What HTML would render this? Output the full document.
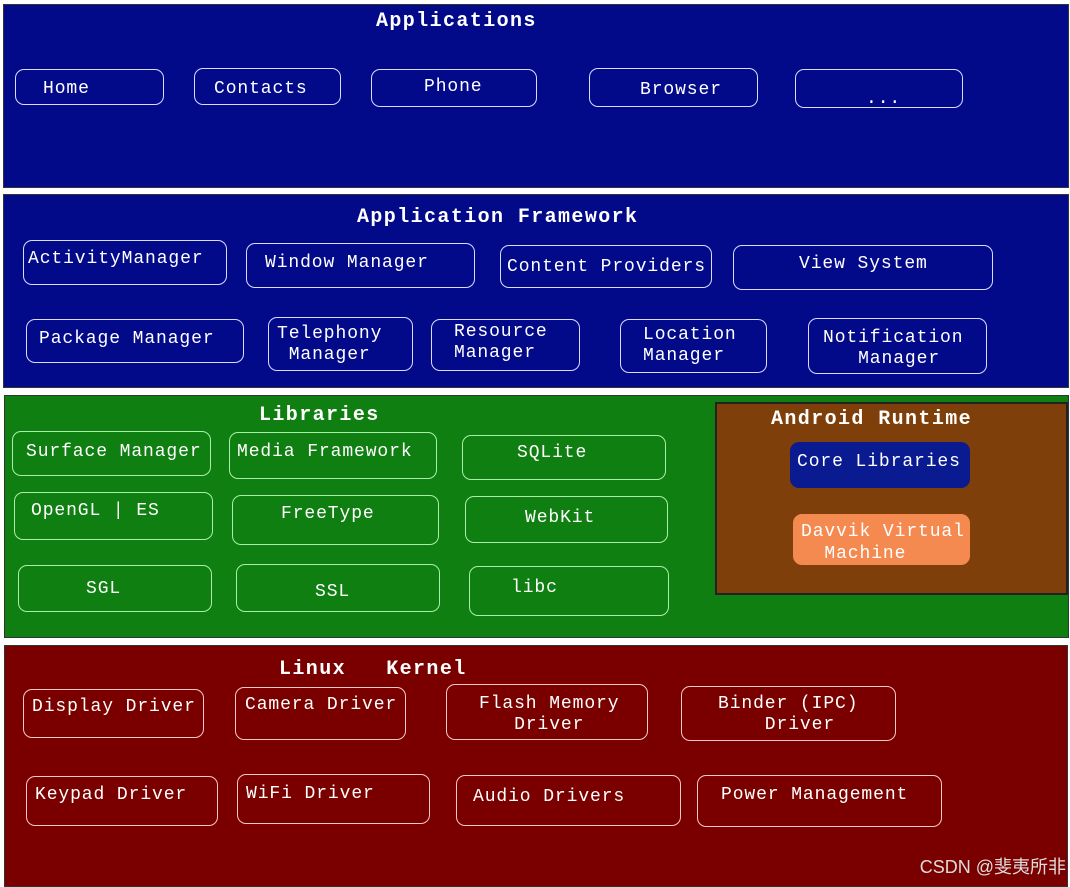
<!DOCTYPE html>
<html><head><meta charset="utf-8"><style>
body{margin:0;width:1070px;height:883px;background:#fff;position:relative;overflow:hidden;font-family:"Liberation Mono",monospace;}
.p{position:absolute;border:1px solid #333;}
.b{position:absolute;border:1.5px solid #d8dcff;border-radius:9px;box-sizing:border-box;color:#fff;font-size:18px;letter-spacing:0.9px;line-height:21px;white-space:pre;}
.g{border-color:#a8f0a8;}
.r{border-color:#f4c8c8;}
.t{position:absolute;color:#fff;font-weight:bold;font-size:20px;letter-spacing:1.4px;white-space:pre;font-family:"Liberation Mono",monospace;}
.x{position:absolute;}
</style></head><body>
<div class="p" style="left:3px;top:4px;width:1064px;height:182px;background:#020a8a"></div>
<div class="p" style="left:3px;top:194px;width:1064px;height:192px;background:#020a8a"></div>
<div class="p" style="left:4px;top:395px;width:1063px;height:241px;background:#107f12"></div>
<div class="p" style="left:715px;top:402px;width:349px;height:189px;background:#7f3f0a;border:2px solid #222"></div>
<div class="p" style="left:4px;top:645px;width:1062px;height:240px;background:#7a0000"></div>

<div class="t" style="left:376px;top:10px">Applications</div>
<div class="t" style="left:357px;top:206px">Application Framework</div>
<div class="t" style="left:259px;top:404px">Libraries</div>
<div class="t" style="left:771px;top:408px">Android Runtime</div>
<div class="t" style="left:279px;top:658px">Linux   Kernel</div>

<div class="b" style="left:15px;top:69px;width:149px;height:36px;padding:9px 0 0 27px">Home</div>
<div class="b" style="left:194px;top:68px;width:147px;height:37px;padding:10px 0 0 19px">Contacts</div>
<div class="b" style="left:371px;top:69px;width:166px;height:38px;padding:7px 0 0 52px">Phone</div>
<div class="b" style="left:589px;top:68px;width:169px;height:39px;padding:11px 0 0 50px">Browser</div>
<div class="b" style="left:795px;top:69px;width:168px;height:39px;padding:19px 0 0 70px">...</div>

<div class="b" style="left:23px;top:240px;width:204px;height:45px;padding:8px 0 0 4px">ActivityManager</div>
<div class="b" style="left:246px;top:243px;width:229px;height:45px;padding:9px 0 0 18px">Window Manager</div>
<div class="b" style="left:500px;top:245px;width:212px;height:43px;padding:11px 0 0 6px">Content Providers</div>
<div class="b" style="left:733px;top:245px;width:260px;height:45px;padding:8px 0 0 65px">View System</div>
<div class="b" style="left:26px;top:319px;width:218px;height:44px;padding:9px 0 0 12px">Package Manager</div>
<div class="b" style="left:268px;top:317px;width:145px;height:54px;padding:6px 0 0 8px">Telephony
 Manager</div>
<div class="b" style="left:431px;top:319px;width:149px;height:52px;padding:2px 0 0 22px">Resource
Manager</div>
<div class="b" style="left:620px;top:319px;width:147px;height:54px;padding:5px 0 0 22px">Location
Manager</div>
<div class="b" style="left:808px;top:318px;width:179px;height:56px;padding:9px 0 0 14px">Notification
   Manager</div>

<div class="b g" style="left:12px;top:431px;width:199px;height:45px;padding:10px 0 0 13px">Surface Manager</div>
<div class="b g" style="left:229px;top:432px;width:208px;height:47px;padding:9px 0 0 7px">Media Framework</div>
<div class="b g" style="left:462px;top:435px;width:204px;height:45px;padding:7px 0 0 54px">SQLite</div>
<div class="b g" style="left:14px;top:492px;width:199px;height:48px;padding:8px 0 0 16px">OpenGL | ES</div>
<div class="b g" style="left:232px;top:495px;width:207px;height:50px;padding:8px 0 0 48px">FreeType</div>
<div class="b g" style="left:465px;top:496px;width:203px;height:47px;padding:11px 0 0 59px">WebKit</div>
<div class="b g" style="left:18px;top:565px;width:194px;height:47px;padding:13px 0 0 67px">SGL</div>
<div class="b g" style="left:236px;top:564px;width:204px;height:48px;padding:17px 0 0 78px">SSL</div>
<div class="b g" style="left:469px;top:566px;width:200px;height:50px;padding:11px 0 0 41px">libc</div>

<div class="b" style="left:790px;top:442px;width:180px;height:46px;background:#0a1a90;border-color:#0a1a90;padding:9px 0 0 6px">Core Libraries</div>
<div class="b" style="left:793px;top:514px;width:177px;height:51px;background:#f58a50;border-color:#f58a50;padding:6px 0 0 7px;line-height:22px">Davvik Virtual
  Machine</div>

<div class="b r" style="left:23px;top:689px;width:181px;height:49px;padding:7px 0 0 8px">Display Driver</div>
<div class="b r" style="left:235px;top:687px;width:171px;height:53px;padding:7px 0 0 9px">Camera Driver</div>
<div class="b r" style="left:446px;top:684px;width:202px;height:56px;padding:9px 0 0 32px">Flash Memory
   Driver</div>
<div class="b r" style="left:681px;top:686px;width:215px;height:55px;padding:7px 0 0 36px">Binder (IPC)
    Driver</div>
<div class="b r" style="left:26px;top:776px;width:192px;height:50px;padding:8px 0 0 8px">Keypad Driver</div>
<div class="b r" style="left:237px;top:774px;width:193px;height:50px;padding:9px 0 0 8px">WiFi Driver</div>
<div class="b r" style="left:456px;top:775px;width:225px;height:51px;padding:11px 0 0 16px">Audio Drivers</div>
<div class="b r" style="left:697px;top:775px;width:245px;height:52px;padding:9px 0 0 23px">Power Management</div>

<div class="x" style="right:4px;top:853px;color:#ddd;font-family:'Liberation Sans','Noto Sans CJK SC',sans-serif;font-size:18px">CSDN @斐夷所非</div>
</body></html>
